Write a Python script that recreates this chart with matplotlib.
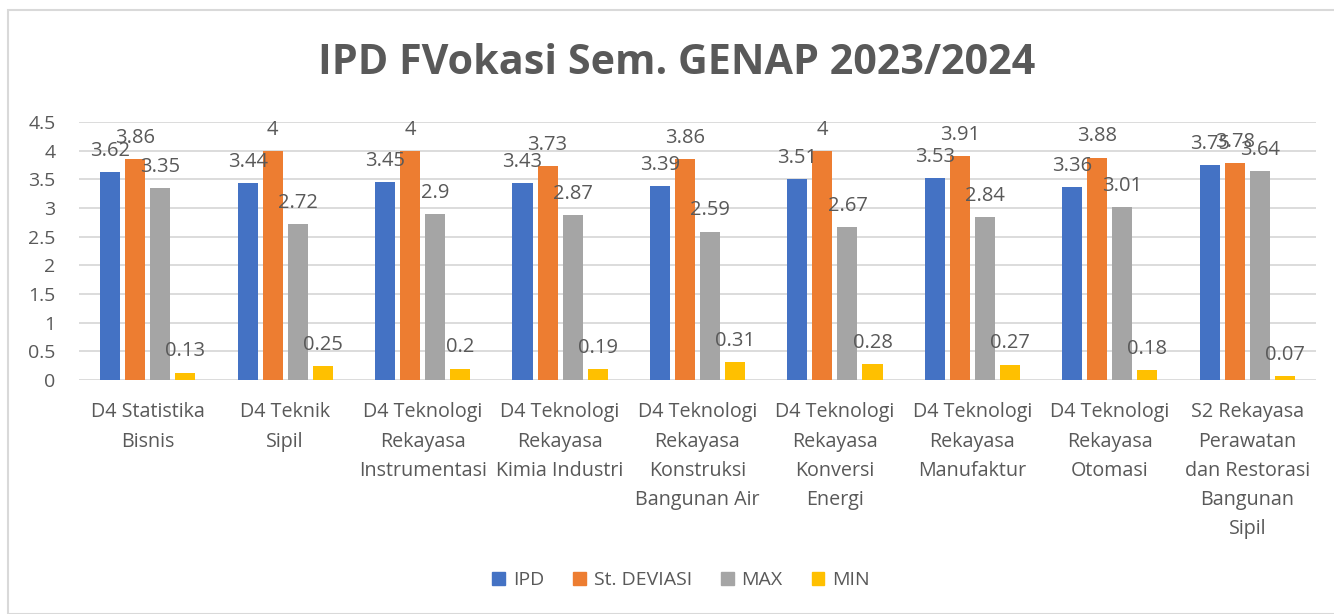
import matplotlib
matplotlib.use("Agg")
import matplotlib.pyplot as plt
import numpy as np
from matplotlib.patches import Rectangle

categories = [
    "D4 Statistika\nBisnis",
    "D4 Teknik\nSipil",
    "D4 Teknologi\nRekayasa\nInstrumentasi",
    "D4 Teknologi\nRekayasa\nKimia Industri",
    "D4 Teknologi\nRekayasa\nKonstruksi\nBangunan Air",
    "D4 Teknologi\nRekayasa\nKonversi\nEnergi",
    "D4 Teknologi\nRekayasa\nManufaktur",
    "D4 Teknologi\nRekayasa\nOtomasi",
    "S2 Rekayasa\nPerawatan\ndan Restorasi\nBangunan\nSipil",
]
ipd = [3.62, 3.44, 3.45, 3.43, 3.39, 3.51, 3.53, 3.36, 3.75]
st_deviasi = [3.86, 4, 4, 3.73, 3.86, 4, 3.91, 3.88, 3.78]
max_vals = [3.35, 2.72, 2.9, 2.87, 2.59, 2.67, 2.84, 3.01, 3.64]
min_vals = [0.13, 0.25, 0.2, 0.19, 0.31, 0.28, 0.27, 0.18, 0.07]
series_names = ["IPD", "St. DEVIASI", "MAX", "MIN"]
yticks = [0, 0.5, 1, 1.5, 2, 2.5, 3, 3.5, 4, 4.5]
title = "IPD FVokasi Sem. GENAP 2023/2024"

colors = ["#4472C4", "#ED7D31", "#A5A5A5", "#FFC000"]
text_color = "#595959"
font = ["Open Sans", "DejaVu Sans"]
plt.rcParams["font.family"] = font

W, H = 1334, 614
fig = plt.figure(figsize=(W / 100, H / 100), dpi=100)
fig.patches.append(Rectangle((8 / W, 0), 1.0, 1 - 10 / H, transform=fig.transFigure,
                             fill=False, edgecolor="#D9D9D9", linewidth=1.5, zorder=0))

ax = fig.add_axes([79 / W, 1 - 380 / H, (1316 - 79) / W, (380 - 122) / H])
x = np.arange(len(categories))
bw = 0.146
step = 0.182
all_series = [ipd, st_deviasi, max_vals, min_vals]
for i, (vals, name, c) in enumerate(zip(all_series, series_names, colors)):
    pos = x + (i - 1.5) * step
    ax.bar(pos, vals, width=bw, color=c, label=name, zorder=3)
    for p, v in zip(pos, vals):
        ax.annotate(f"{v:g}", (p, v), xytext=(0, 8), textcoords="offset points",
                    ha="center", va="bottom", fontsize=14.5, color=text_color, zorder=4)

ax.set_xlim(-0.5, len(categories) - 0.5)
ax.set_ylim(0, 4.5)
ax.set_yticks(yticks)
ax.set_yticklabels([f"{t:g}" for t in yticks])
ax.yaxis.grid(True, color="#D9D9D9", linewidth=1.3, zorder=0)
ax.set_axisbelow(True)
for s in ax.spines.values():
    s.set_visible(False)
ax.tick_params(axis="both", length=0, colors=text_color, labelsize=14)
ax.tick_params(axis="y", pad=17)
ax.set_xticks(x)
ax.set_xticklabels(categories, linespacing=1.62, fontsize=14.2)
ax.tick_params(axis="x", pad=16)

fig.text(677 / W, 1 - 63 / H, title, ha="center", va="center", fontsize=29.7,
         fontweight="bold", color=text_color)

handles = [Rectangle((0, 0), 1, 1, color=c) for c in colors]
fig.legend(handles, series_names, loc="center", bbox_to_anchor=(681 / W, 1 - 580 / H),
           ncol=4, frameon=False, fontsize=14, labelcolor=text_color,
           handlelength=0.65, handleheight=0.65, handletextpad=0.4, columnspacing=1.5)

fig.savefig("out.png", dpi=100, facecolor="white")
